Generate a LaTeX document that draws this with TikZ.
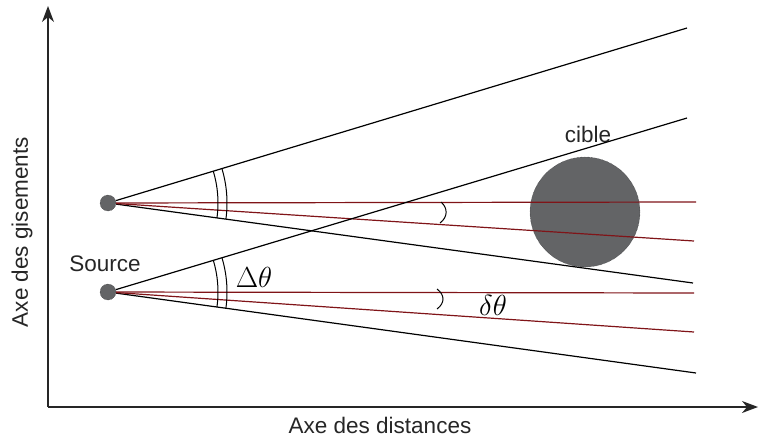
\documentclass[tikz,border=0pt]{standalone}
\usepackage{fix-cm}
\usepackage{fontspec}
\setmainfont{Liberation Sans}
\usetikzlibrary{arrows.meta}
\definecolor{raycol}{RGB}{128,20,24}
\definecolor{dotgray}{RGB}{99,100,102}
\begin{document}
\begin{tikzpicture}[x=1pt,y=-1pt,
    src/.style={circle,fill=dotgray,draw=dotgray!50!black,densely dotted,minimum size=16pt,inner sep=0pt},
    ray/.style={line width=1.2pt},
    redray/.style={ray,draw=raycol},
    axis/.style={line width=1.4pt,draw=black!85,-{Stealth[length=16pt,width=12pt,inset=5pt]}},
    lbl/.style={font=\fontsize{22.5}{26}\selectfont,text=black!85},
    sym/.style={font=\fontsize{29}{34}\selectfont}]
    \useasboundingbox (0,0) rectangle (760,439);

    % Axes
    \coordinate (o) at (48,407);
    \coordinate (ytip) at (48,6);
    \coordinate (xtip) at (758,407);
    \draw[axis] (o) -- (ytip);
    \draw[axis] (o) -- (xtip);
    \node[lbl,rotate=90] (ylab) at (22,232) {Axe des gisements};
    \node[lbl] (xlab) at (380,425) {Axe des distances};

    % Cible
    \node[src,minimum size=110pt] (cible) at (585,212) {};
    \node[lbl] (ciblelab) at (588,134) {cible};

    % Sources
    \node[src] (s1) at (108,203) {};
    \node[src] (s2) at (108,292) {};
    \node[lbl] (srclab) at (105,264) {Source};

    % Faisceaux
    \coordinate (s1a) at (687,28);
    \coordinate (s1b) at (693,283);
    \coordinate (s1c) at (696,202);
    \coordinate (s1d) at (694,241);
    \coordinate (s2a) at (687,118);
    \coordinate (s2b) at (696,373);
    \coordinate (s2c) at (694,293);
    \coordinate (s2d) at (694,332);
    \foreach \s in {s1,s2} {
        \draw[ray] (\s) -- (\s a);
        \draw[ray] (\s) -- (\s b);
        \draw[redray] (\s) -- (\s c);
        \draw[redray] (\s) -- (\s d);
        \draw[line width=1pt] (\s.center) ++(-16.8:110) arc[start angle=-16.8,end angle=7.8,radius=110];
        \draw[line width=1pt] (\s.center) ++(-16.8:119) arc[start angle=-16.8,end angle=7.8,radius=119];
    }

    % Petits angles
    \draw[line width=1pt] (441,202) .. controls (448,208) and (448,217) .. (440,223);
    \draw[line width=1pt] (437,289) .. controls (445,295) and (445,303) .. (437,309);

    \node[sym] (Dth) at (254,277) {$\Delta\theta$};
    \node[sym] (dth) at (493,305) {$\delta\theta$};
\end{tikzpicture}
\end{document}
